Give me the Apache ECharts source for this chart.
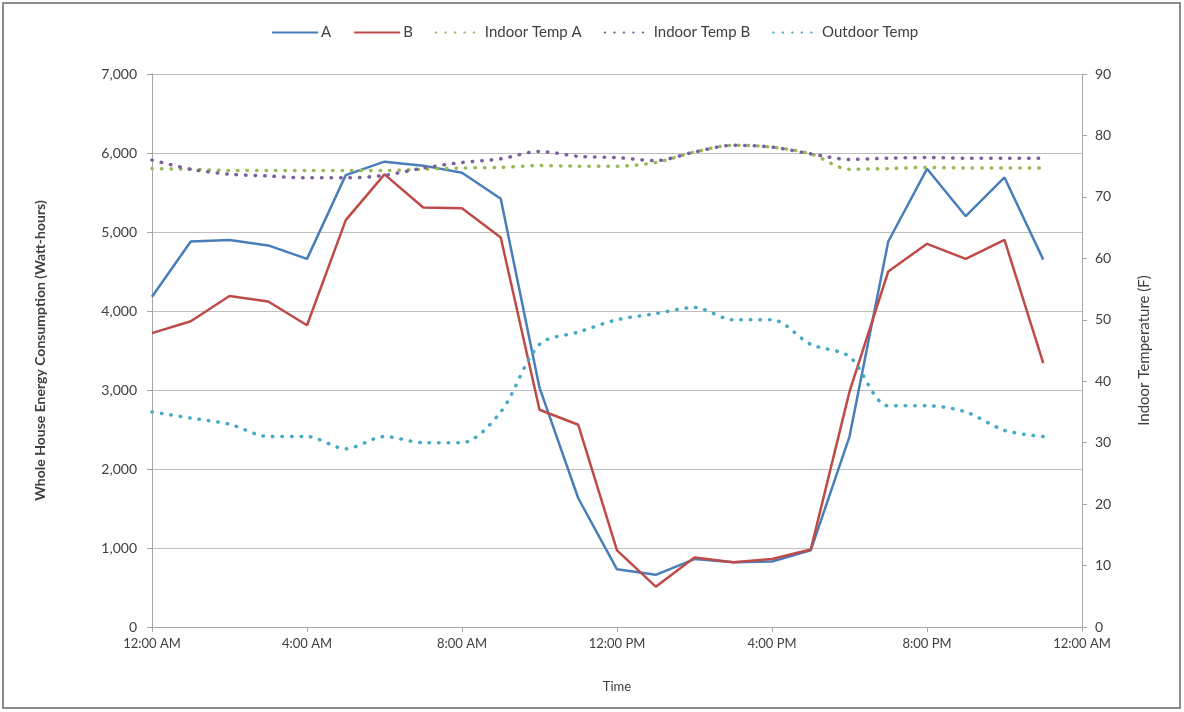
<!DOCTYPE html>
<html>
<head>
<meta charset="utf-8">
<script src="https://cdn.jsdelivr.net/npm/echarts@6/dist/echarts.min.js"></script>
<style>
	html, body { margin: 0; padding: 0; background: #fff; }
	#chart { width: 1184px; height: 712px; }
</style>
</head>
<body>
<div id="chart"></div>
<script>
// hour of day for each reading
var hours = [0, 1, 2, 3, 4, 5, 6, 7, 8, 9, 10, 11, 12, 13, 14, 15, 16, 17, 18, 19, 20, 21, 22, 23];
// whole house energy (Wh)
var usageA = [4180, 4880, 4900, 4830, 4660, 5720, 5890, 5840, 5750, 5420, 3030, 1630, 730, 660, 860, 820, 830, 970, 2410, 4880, 5800, 5200, 5690, 4650];
var usageB = [3720, 3870, 4190, 4120, 3820, 5150, 5730, 5310, 5300, 4930, 2750, 2560, 970, 510, 880, 820, 860, 980, 2980, 4500, 4850, 4660, 4900, 3340];
// temperatures (F)
var indoorA = [74.6, 74.5, 74.3, 74.3, 74.3, 74.3, 74.3, 74.5, 74.7, 74.8, 75.1, 75.0, 75.0, 75.6, 77.3, 78.4, 78.1, 77.0, 74.5, 74.6, 74.8, 74.7, 74.7, 74.7];
var indoorB = [76.0, 74.5, 73.7, 73.4, 73.1, 73.1, 73.5, 74.7, 75.6, 76.2, 77.4, 76.6, 76.4, 75.9, 77.3, 78.4, 78.1, 77.0, 76.1, 76.3, 76.4, 76.3, 76.3, 76.3];
var outdoor = [35, 34, 33, 31, 31, 29, 31, 30, 30, 35, 46, 48, 50, 51, 52, 50, 50, 46, 44, 36, 36, 35, 32, 31];

var font = 'Lato, "Open Sans", sans-serif';
var textColor = '#404040';

function pair(vals) {
	var out = [];
	for (var i = 0; i < hours.length; i++) {
		out.push([hours[i], vals[i]]);
	}
	return out;
}

function timeLabel(h) {
	h = h % 24;
	if (h == 0) return '12:00 AM';
	if (h == 12) return '12:00 PM';
	return h < 12 ? h + ':00 AM' : (h - 12) + ':00 PM';
}

function solid(name, vals, color) {
	return {
		name: name,
		type: 'line',
		yAxisIndex: 0,
		data: pair(vals),
		symbol: 'none',
		lineStyle: { color: color, width: 2.5 },
		itemStyle: { color: color }
	};
}

function dotted(name, vals, color) {
	return {
		name: name,
		type: 'line',
		yAxisIndex: 1,
		data: pair(vals),
		symbol: 'none',
		smooth: 0.3,
		lineStyle: { color: color, width: 3.5, type: [0.5, 9], cap: 'round' },
		itemStyle: { color: color }
	};
}

var chart = echarts.init(document.getElementById('chart'));

var option = {
	backgroundColor: '#fff',
	animation: false,
	textStyle: { fontFamily: font },
	graphic: [{
		type: 'rect',
		shape: { x: 3, y: 3, width: 1177, height: 705 },
		style: { fill: 'none', stroke: '#8c8c8c', lineWidth: 2 },
		silent: true
	}],
	legend: {
		top: 20,
		left: 266,
		itemWidth: 46,
		itemHeight: 10,
		itemGap: 22,
		itemStyle: { opacity: 0 },
		textStyle: { fontFamily: font, fontSize: 15, color: textColor, padding: [0, 0, 0, -2] },
		data: ['A', 'B', 'Indoor Temp A', 'Indoor Temp B', 'Outdoor Temp']
	},
	grid: { left: 152, right: 102, top: 74, bottom: 85 },
	xAxis: {
		type: 'value',
		min: 0,
		max: 24,
		interval: 4,
		name: 'Time',
		nameLocation: 'middle',
		nameGap: 53,
		nameTextStyle: { fontFamily: font, fontSize: 13, color: textColor },
		axisLine: { lineStyle: { color: '#a6a6a6' } },
		axisTick: { show: true, length: 5, lineStyle: { color: '#a6a6a6' } },
		axisLabel: { fontFamily: font, fontSize: 13, color: textColor, margin: 10, formatter: timeLabel },
		splitLine: { show: false }
	},
	yAxis: [{
		type: 'value',
		min: 0,
		max: 7000,
		interval: 1000,
		position: 'left',
		name: 'Whole House Energy Consumption (Watt-hours)',
		nameLocation: 'middle',
		nameRotate: 90,
		nameGap: 105,
		nameTextStyle: { fontFamily: font, fontSize: 14, fontWeight: 'bold', color: textColor },
		axisLine: { show: true, lineStyle: { color: '#a6a6a6' } },
		axisTick: { show: true, length: 5, lineStyle: { color: '#a6a6a6' } },
		axisLabel: {
			fontFamily: font, fontSize: 14, color: textColor, margin: 15,
			formatter: function(v) { return v.toLocaleString('en-US'); }
		},
		splitLine: { show: true, lineStyle: { color: '#bfbfbf', width: 1 } }
	}, {
		type: 'value',
		min: 0,
		max: 90,
		interval: 10,
		position: 'right',
		name: 'Indoor Temperature (F)',
		nameLocation: 'middle',
		nameRotate: 90,
		nameGap: 55,
		nameTextStyle: { fontFamily: font, fontSize: 15, color: textColor },
		axisLine: { show: true, lineStyle: { color: '#a6a6a6' } },
		axisTick: { show: true, length: 5, lineStyle: { color: '#a6a6a6' } },
		axisLabel: { fontFamily: font, fontSize: 14, color: textColor, margin: 13 },
		splitLine: { show: false }
	}],
	series: [
		solid('A', usageA, '#4a7ebb'),
		solid('B', usageB, '#be4b48'),
		dotted('Indoor Temp A', indoorA, '#98b954'),
		dotted('Indoor Temp B', indoorB, '#7d5fa0'),
		dotted('Outdoor Temp', outdoor, '#46aac5')
	]
};

chart.setOption(option);
</script>
</body>
</html>
